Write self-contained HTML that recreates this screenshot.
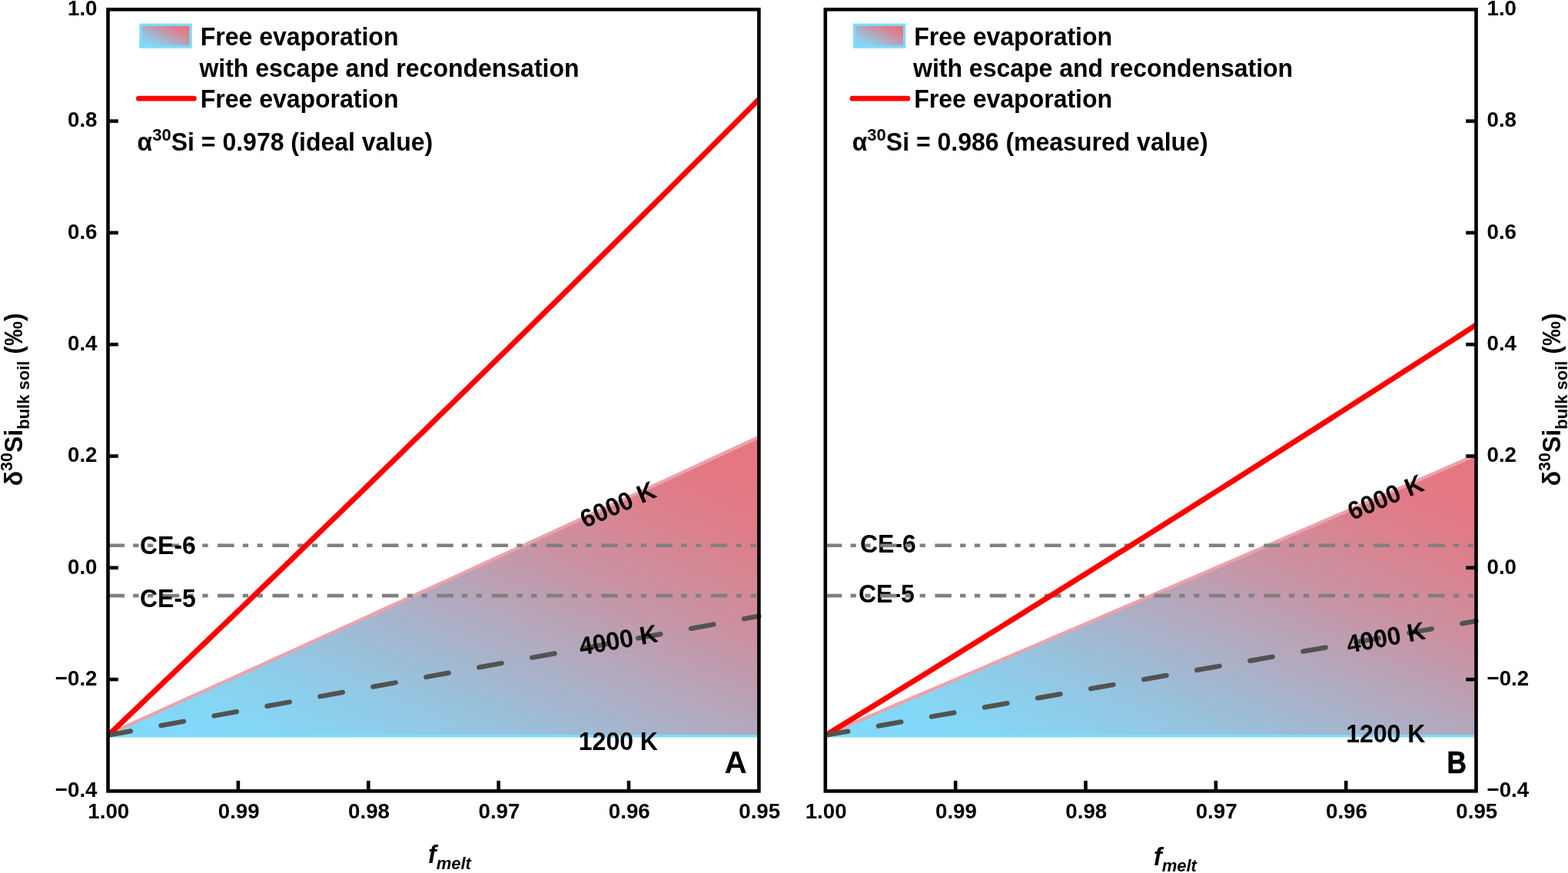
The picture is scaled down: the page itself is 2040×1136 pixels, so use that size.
<!DOCTYPE html><html><head><meta charset="utf-8"><title>Silicon isotope fractionation during evaporation</title><style>html,body{margin:0;padding:0;background:#fff;overflow:hidden}svg{display:block}text{font-family:"Liberation Sans", Arial, sans-serif;font-weight:bold;fill:#000}</style></head><body>
<svg width="2040" height="1136" viewBox="0 0 2040 1136">
<defs>
<linearGradient id="gf" x1="0" y1="1" x2="1" y2="0"><stop offset="0.0000" stop-color="#80dafa"/><stop offset="0.0417" stop-color="#81d9f9"/><stop offset="0.0833" stop-color="#82d8f8"/><stop offset="0.1250" stop-color="#84d6f5"/><stop offset="0.1667" stop-color="#88d3f1"/><stop offset="0.2083" stop-color="#8bcfec"/><stop offset="0.2500" stop-color="#90cae7"/><stop offset="0.2917" stop-color="#95c5e1"/><stop offset="0.3333" stop-color="#9ac0da"/><stop offset="0.3750" stop-color="#a0bad3"/><stop offset="0.4167" stop-color="#a6b4cc"/><stop offset="0.4583" stop-color="#adaec5"/><stop offset="0.5000" stop-color="#b3a8bd"/><stop offset="0.5417" stop-color="#b9a2b5"/><stop offset="0.5833" stop-color="#c09cae"/><stop offset="0.6250" stop-color="#c696a7"/><stop offset="0.6667" stop-color="#cc90a0"/><stop offset="0.7083" stop-color="#d18b99"/><stop offset="0.7500" stop-color="#d68693"/><stop offset="0.7917" stop-color="#db818e"/><stop offset="0.8333" stop-color="#de7d89"/><stop offset="0.8750" stop-color="#e27a85"/><stop offset="0.9167" stop-color="#e47882"/><stop offset="0.9583" stop-color="#e57781"/><stop offset="1.0000" stop-color="#e67680"/></linearGradient>
<linearGradient id="gl" x1="0" y1="1" x2="1" y2="0"><stop offset="0.0000" stop-color="#80dafa"/><stop offset="0.0417" stop-color="#81d9f9"/><stop offset="0.0833" stop-color="#82d8f8"/><stop offset="0.1250" stop-color="#85d5f5"/><stop offset="0.1667" stop-color="#88d2f1"/><stop offset="0.2083" stop-color="#8cceec"/><stop offset="0.2500" stop-color="#91c9e6"/><stop offset="0.2917" stop-color="#96c4e0"/><stop offset="0.3333" stop-color="#9cbfd9"/><stop offset="0.3750" stop-color="#a2b8d2"/><stop offset="0.4167" stop-color="#a9b2cb"/><stop offset="0.4583" stop-color="#afacc3"/><stop offset="0.5000" stop-color="#b6a5bb"/><stop offset="0.5417" stop-color="#bd9eb3"/><stop offset="0.5833" stop-color="#c398ab"/><stop offset="0.6250" stop-color="#ca92a4"/><stop offset="0.6667" stop-color="#d08b9d"/><stop offset="0.7083" stop-color="#d68696"/><stop offset="0.7500" stop-color="#db8190"/><stop offset="0.7917" stop-color="#e07c8a"/><stop offset="0.8333" stop-color="#e47885"/><stop offset="0.8750" stop-color="#e77581"/><stop offset="0.9167" stop-color="#ea727e"/><stop offset="0.9583" stop-color="#eb717d"/><stop offset="1.0000" stop-color="#ec707c"/></linearGradient>
<clipPath id="cpd0"><rect x="140.5" y="0" width="856.9" height="1136"/></clipPath>
<clipPath id="cp0"><rect x="140.5" y="12.300000000000011" width="846.9" height="1017.1000000000001"/></clipPath>
<clipPath id="cpd1"><rect x="1073.8" y="0" width="856.7" height="1136"/></clipPath>
<clipPath id="cp1"><rect x="1073.8" y="12.300000000000011" width="846.7" height="1017.1000000000001"/></clipPath>
</defs>
<rect width="2040" height="1136" fill="#fff"/>
<g id="panelA">
<g clip-path="url(#cp0)">
<polygon points="140.50,955.95 154.62,949.58 168.73,943.20 182.84,936.82 196.96,930.44 211.07,924.06 225.19,917.67 239.31,911.28 253.42,904.89 267.53,898.50 281.65,892.10 295.76,885.70 309.88,879.30 324.00,872.90 338.11,866.49 352.23,860.08 366.34,853.67 380.45,847.26 394.57,840.84 408.69,834.42 422.80,828.00 436.91,821.58 451.03,815.16 465.15,808.73 479.26,802.30 493.38,795.86 507.49,789.43 521.61,782.99 535.72,776.55 549.84,770.11 563.95,763.66 578.07,757.21 592.18,750.76 606.30,744.31 620.41,737.85 634.53,731.39 648.64,724.93 662.75,718.47 676.87,712.00 690.99,705.53 705.10,699.06 719.22,692.59 733.33,686.11 747.44,679.63 761.56,673.15 775.67,666.67 789.79,660.18 803.90,653.69 818.02,647.20 832.13,640.70 846.25,634.21 860.37,627.71 874.48,621.20 888.59,614.70 902.71,608.19 916.82,601.68 930.94,595.17 945.05,588.65 959.17,582.13 973.28,575.61 987.40,569.09 987.4,957.95 140.5,957.95" fill="url(#gf)"/>
<line x1="140.5" y1="957.75" x2="987.4" y2="957.75" stroke="#80dcfa" stroke-width="3.4"/>
<polyline points="140.50,955.55 154.62,949.18 168.73,942.80 182.84,936.42 196.96,930.04 211.07,923.66 225.19,917.27 239.31,910.88 253.42,904.49 267.53,898.10 281.65,891.70 295.76,885.30 309.88,878.90 324.00,872.50 338.11,866.09 352.23,859.68 366.34,853.27 380.45,846.86 394.57,840.44 408.69,834.02 422.80,827.60 436.91,821.18 451.03,814.76 465.15,808.33 479.26,801.90 493.38,795.46 507.49,789.03 521.61,782.59 535.72,776.15 549.84,769.71 563.95,763.26 578.07,756.81 592.18,750.36 606.30,743.91 620.41,737.45 634.53,730.99 648.64,724.53 662.75,718.07 676.87,711.60 690.99,705.13 705.10,698.66 719.22,692.19 733.33,685.71 747.44,679.23 761.56,672.75 775.67,666.27 789.79,659.78 803.90,653.29 818.02,646.80 832.13,640.30 846.25,633.81 860.37,627.31 874.48,620.80 888.59,614.30 902.71,607.79 916.82,601.28 930.94,594.77 945.05,588.25 959.17,581.73 973.28,575.21 987.40,568.69" fill="none" stroke="#eca2aa" stroke-width="4.2"/>
</g>
<line x1="140.5" y1="709.74" x2="987.4" y2="709.74" stroke="#808080" stroke-width="4.6" stroke-dasharray="21.5 11.2 7.3 11.5 7.3 12.5"/>
<text transform="translate(182.00,721.00) scale(1.0,1.03)" font-size="32">CE-6</text>
<line x1="140.5" y1="775.12" x2="987.4" y2="775.12" stroke="#808080" stroke-width="4.6" stroke-dasharray="21.5 11.2 7.3 11.5 7.3 12.5"/>
<text transform="translate(182.00,790.00) scale(1.0,1.03)" font-size="32">CE-5</text>
<g clip-path="url(#cp0)"><polyline points="140.50,957.05 151.09,946.97 161.67,936.88 172.26,926.78 182.84,916.68 193.43,906.57 204.02,896.45 214.60,886.33 225.19,876.20 235.78,866.06 246.36,855.92 256.95,845.77 267.53,835.62 278.12,825.45 288.71,815.29 299.29,805.11 309.88,794.93 320.47,784.74 331.05,774.55 341.64,764.34 352.23,754.14 362.81,743.92 373.40,733.70 383.98,723.47 394.57,713.24 405.16,703.00 415.74,692.75 426.33,682.50 436.91,672.24 447.50,661.97 458.09,651.69 468.67,641.41 479.26,631.13 489.85,620.83 500.43,610.53 511.02,600.22 521.61,589.91 532.19,579.59 542.78,569.26 553.36,558.92 563.95,548.58 574.54,538.23 585.12,527.88 595.71,517.52 606.30,507.15 616.88,496.77 627.47,486.39 638.05,476.00 648.64,465.60 659.23,455.20 669.81,444.79 680.40,434.38 690.99,423.95 701.57,413.52 712.16,403.08 722.74,392.64 733.33,382.19 743.92,371.73 754.50,361.27 765.09,350.79 775.67,340.32 786.26,329.83 796.85,319.34 807.43,308.84 818.02,298.33 828.61,287.82 839.19,277.30 849.78,266.77 860.37,256.23 870.95,245.69 881.54,235.14 892.12,224.59 902.71,214.02 913.30,203.45 923.88,192.88 934.47,182.29 945.05,171.70 955.64,161.10 966.23,150.50 976.81,139.89 987.40,129.27" fill="none" stroke="#ff0000" stroke-width="7"/></g>
<g clip-path="url(#cpd0)"><line x1="140.5" y1="956.75" x2="987.4" y2="801.71" stroke="#525252" stroke-width="6.3" stroke-linecap="round" stroke-dasharray="30 40.1"/></g>
<text transform="translate(761.10,687.50) rotate(-23.6) scale(1.0,1.03)" font-size="32">6000 K</text>
<text transform="translate(755.50,852.70) rotate(-9.8) scale(1.0,1.03)" font-size="32">4000 K</text>
<text transform="translate(752.80,975.50) scale(1.0,1.03)" font-size="32">1200 K</text>
<text transform="translate(942.50,1006.00)" font-size="40.5">A</text>
<rect x="140.5" y="12.30" width="846.90" height="1017.10" fill="none" stroke="#000" stroke-width="4.6"/>
<line x1="309.88" y1="1029.40" x2="309.88" y2="1015.90" stroke="#000" stroke-width="4.6"/>
<line x1="479.26" y1="1029.40" x2="479.26" y2="1015.90" stroke="#000" stroke-width="4.6"/>
<line x1="648.64" y1="1029.40" x2="648.64" y2="1015.90" stroke="#000" stroke-width="4.6"/>
<line x1="818.02" y1="1029.40" x2="818.02" y2="1015.90" stroke="#000" stroke-width="4.6"/>
<line x1="140.5" y1="157.60" x2="153.80" y2="157.60" stroke="#000" stroke-width="4.6"/>
<line x1="140.5" y1="302.90" x2="153.80" y2="302.90" stroke="#000" stroke-width="4.6"/>
<line x1="140.5" y1="448.20" x2="153.80" y2="448.20" stroke="#000" stroke-width="4.6"/>
<line x1="140.5" y1="593.50" x2="153.80" y2="593.50" stroke="#000" stroke-width="4.6"/>
<line x1="140.5" y1="738.80" x2="153.80" y2="738.80" stroke="#000" stroke-width="4.6"/>
<line x1="140.5" y1="884.10" x2="153.80" y2="884.10" stroke="#000" stroke-width="4.6"/>
<text transform="translate(126.50,20.00) scale(1.0,1.03)" font-size="27.7" text-anchor="end">1.0</text>
<text transform="translate(126.50,165.30) scale(1.0,1.03)" font-size="27.7" text-anchor="end">0.8</text>
<text transform="translate(126.50,310.60) scale(1.0,1.03)" font-size="27.7" text-anchor="end">0.6</text>
<text transform="translate(126.50,455.90) scale(1.0,1.03)" font-size="27.7" text-anchor="end">0.4</text>
<text transform="translate(126.50,601.20) scale(1.0,1.03)" font-size="27.7" text-anchor="end">0.2</text>
<text transform="translate(126.50,746.50) scale(1.0,1.03)" font-size="27.7" text-anchor="end">0.0</text>
<text transform="translate(126.50,891.80) scale(1.0,1.03)" font-size="27.7" text-anchor="end">−0.2</text>
<text transform="translate(126.50,1037.10) scale(1.0,1.03)" font-size="27.7" text-anchor="end">−0.4</text>
<text transform="translate(141.30,1065.00) scale(1.0,1.03)" font-size="27.7" text-anchor="middle">1.00</text>
<text transform="translate(310.68,1065.00) scale(1.0,1.03)" font-size="27.7" text-anchor="middle">0.99</text>
<text transform="translate(480.06,1065.00) scale(1.0,1.03)" font-size="27.7" text-anchor="middle">0.98</text>
<text transform="translate(649.44,1065.00) scale(1.0,1.03)" font-size="27.7" text-anchor="middle">0.97</text>
<text transform="translate(818.82,1065.00) scale(1.0,1.03)" font-size="27.7" text-anchor="middle">0.96</text>
<text transform="translate(988.20,1065.00) scale(1.0,1.03)" font-size="27.7" text-anchor="middle">0.95</text>
<rect x="182.9" y="32.3" width="65.2" height="28.8" fill="url(#gl)" stroke="#80dcfa" stroke-width="3.4"/>
<text transform="translate(260.70,58.70) scale(1.0,1.03)" font-size="32">Free evaporation</text>
<text transform="translate(259.40,99.80) scale(1.0,1.03)" font-size="32">with escape and recondensation</text>
<line x1="180.4" y1="128.2" x2="252.4" y2="128.2" stroke="#ff0000" stroke-width="6.7" stroke-linecap="round"/>
<text transform="translate(260.70,139.80) scale(1.0,1.03)" font-size="32">Free evaporation</text>
<text transform="translate(178.60,195.80) scale(1.0,1.03)" font-size="32">α<tspan font-size="22" dy="-12.8">30</tspan><tspan dy="12.8">Si = 0.978 (ideal value)</tspan></text>
<text transform="translate(557.00,1122.90) scale(1.0,1.03)" font-size="32" font-style="italic">f<tspan font-size="22" dy="8.3">melt</tspan></text>
</g>
<g id="panelB">
<g clip-path="url(#cp1)">
<polygon points="1073.80,956.75 1087.91,950.75 1102.02,944.74 1116.13,938.73 1130.25,932.72 1144.36,926.71 1158.47,920.70 1172.58,914.68 1186.69,908.66 1200.80,902.64 1214.92,896.62 1229.03,890.59 1243.14,884.56 1257.25,878.53 1271.36,872.50 1285.47,866.46 1299.59,860.43 1313.70,854.39 1327.81,848.34 1341.92,842.30 1356.03,836.25 1370.14,830.20 1384.26,824.15 1398.37,818.10 1412.48,812.04 1426.59,805.98 1440.70,799.92 1454.82,793.86 1468.93,787.79 1483.04,781.72 1497.15,775.65 1511.26,769.58 1525.37,763.51 1539.49,757.43 1553.60,751.35 1567.71,745.27 1581.82,739.18 1595.93,733.09 1610.04,727.00 1624.15,720.91 1638.27,714.82 1652.38,708.72 1666.49,702.62 1680.60,696.52 1694.71,690.41 1708.83,684.31 1722.94,678.20 1737.05,672.09 1751.16,665.97 1765.27,659.86 1779.38,653.74 1793.49,647.62 1807.61,641.49 1821.72,635.37 1835.83,629.24 1849.94,623.10 1864.05,616.97 1878.16,610.83 1892.28,604.70 1906.39,598.55 1920.50,592.41 1920.5,957.95 1073.8,957.95" fill="url(#gf)"/>
<line x1="1073.8" y1="957.75" x2="1920.5" y2="957.75" stroke="#80dcfa" stroke-width="3.4"/>
<polyline points="1073.80,956.35 1087.91,950.35 1102.02,944.34 1116.13,938.33 1130.25,932.32 1144.36,926.31 1158.47,920.30 1172.58,914.28 1186.69,908.26 1200.80,902.24 1214.92,896.22 1229.03,890.19 1243.14,884.16 1257.25,878.13 1271.36,872.10 1285.47,866.06 1299.59,860.03 1313.70,853.99 1327.81,847.94 1341.92,841.90 1356.03,835.85 1370.14,829.80 1384.26,823.75 1398.37,817.70 1412.48,811.64 1426.59,805.58 1440.70,799.52 1454.82,793.46 1468.93,787.39 1483.04,781.32 1497.15,775.25 1511.26,769.18 1525.37,763.11 1539.49,757.03 1553.60,750.95 1567.71,744.87 1581.82,738.78 1595.93,732.69 1610.04,726.60 1624.15,720.51 1638.27,714.42 1652.38,708.32 1666.49,702.22 1680.60,696.12 1694.71,690.01 1708.83,683.91 1722.94,677.80 1737.05,671.69 1751.16,665.57 1765.27,659.46 1779.38,653.34 1793.49,647.22 1807.61,641.09 1821.72,634.97 1835.83,628.84 1849.94,622.70 1864.05,616.57 1878.16,610.43 1892.28,604.30 1906.39,598.15 1920.50,592.01" fill="none" stroke="#eca2aa" stroke-width="4.2"/>
</g>
<text transform="translate(1119.00,719.00) scale(1.0,1.03)" font-size="32">CE-6</text>
<line x1="1073.8" y1="709.74" x2="1920.5" y2="709.74" stroke="#808080" stroke-width="4.6" stroke-dasharray="21.5 11.2 7.3 11.5 7.3 12.5"/>
<text transform="translate(1117.00,784.00) scale(1.0,1.03)" font-size="32">CE-5</text>
<line x1="1073.8" y1="775.12" x2="1920.5" y2="775.12" stroke="#808080" stroke-width="4.6" stroke-dasharray="21.5 11.2 7.3 11.5 7.3 12.5"/>
<g clip-path="url(#cp1)"><polyline points="1073.80,957.05 1084.38,950.54 1094.97,944.03 1105.55,937.51 1116.13,930.99 1126.72,924.47 1137.30,917.94 1147.89,911.40 1158.47,904.87 1169.05,898.32 1179.64,891.78 1190.22,885.23 1200.80,878.67 1211.39,872.11 1221.97,865.55 1232.56,858.98 1243.14,852.41 1253.72,845.84 1264.31,839.26 1274.89,832.67 1285.47,826.08 1296.06,819.49 1306.64,812.89 1317.23,806.29 1327.81,799.69 1338.39,793.08 1348.98,786.46 1359.56,779.84 1370.14,773.22 1380.73,766.59 1391.31,759.96 1401.90,753.33 1412.48,746.69 1423.06,740.04 1433.65,733.40 1444.23,726.74 1454.82,720.08 1465.40,713.42 1475.98,706.76 1486.57,700.09 1497.15,693.41 1507.73,686.73 1518.32,680.05 1528.90,673.36 1539.49,666.67 1550.07,659.97 1560.65,653.27 1571.24,646.57 1581.82,639.86 1592.40,633.14 1602.99,626.42 1613.57,619.70 1624.15,612.97 1634.74,606.24 1645.32,599.50 1655.91,592.76 1666.49,586.02 1677.07,579.27 1687.66,572.51 1698.24,565.75 1708.83,558.99 1719.41,552.22 1729.99,545.45 1740.58,538.67 1751.16,531.89 1761.74,525.11 1772.33,518.32 1782.91,511.52 1793.49,504.72 1804.08,497.92 1814.66,491.11 1825.25,484.30 1835.83,477.48 1846.41,470.66 1857.00,463.83 1867.58,457.00 1878.16,450.16 1888.75,443.32 1899.33,436.48 1909.92,429.63 1920.50,422.77" fill="none" stroke="#ff0000" stroke-width="7"/></g>
<g clip-path="url(#cpd1)"><line x1="1073.8" y1="956.75" x2="1920.5" y2="808.18" stroke="#525252" stroke-width="6.3" stroke-linecap="round" stroke-dasharray="30 40.1"/></g>
<text transform="translate(1759.30,677.30) rotate(-22.6) scale(1.0,1.03)" font-size="32">6000 K</text>
<text transform="translate(1754.30,850.00) rotate(-10.5) scale(1.0,1.03)" font-size="32">4000 K</text>
<text transform="translate(1751.20,965.50) scale(1.0,1.03)" font-size="32">1200 K</text>
<text transform="translate(1882.50,1006.00) scale(0.87,1.0)" font-size="40.5" stroke="#000" stroke-width="0.7">B</text>
<rect x="1073.8" y="12.30" width="846.70" height="1017.10" fill="none" stroke="#000" stroke-width="4.6"/>
<line x1="1243.14" y1="1029.40" x2="1243.14" y2="1015.90" stroke="#000" stroke-width="4.6"/>
<line x1="1412.48" y1="1029.40" x2="1412.48" y2="1015.90" stroke="#000" stroke-width="4.6"/>
<line x1="1581.82" y1="1029.40" x2="1581.82" y2="1015.90" stroke="#000" stroke-width="4.6"/>
<line x1="1751.16" y1="1029.40" x2="1751.16" y2="1015.90" stroke="#000" stroke-width="4.6"/>
<line x1="1920.5" y1="157.60" x2="1907.20" y2="157.60" stroke="#000" stroke-width="4.6"/>
<line x1="1920.5" y1="302.90" x2="1907.20" y2="302.90" stroke="#000" stroke-width="4.6"/>
<line x1="1920.5" y1="448.20" x2="1907.20" y2="448.20" stroke="#000" stroke-width="4.6"/>
<line x1="1920.5" y1="593.50" x2="1907.20" y2="593.50" stroke="#000" stroke-width="4.6"/>
<line x1="1920.5" y1="738.80" x2="1907.20" y2="738.80" stroke="#000" stroke-width="4.6"/>
<line x1="1920.5" y1="884.10" x2="1907.20" y2="884.10" stroke="#000" stroke-width="4.6"/>
<text transform="translate(1934.50,20.00) scale(1.0,1.03)" font-size="27.7">1.0</text>
<text transform="translate(1934.50,165.30) scale(1.0,1.03)" font-size="27.7">0.8</text>
<text transform="translate(1934.50,310.60) scale(1.0,1.03)" font-size="27.7">0.6</text>
<text transform="translate(1934.50,455.90) scale(1.0,1.03)" font-size="27.7">0.4</text>
<text transform="translate(1934.50,601.20) scale(1.0,1.03)" font-size="27.7">0.2</text>
<text transform="translate(1934.50,746.50) scale(1.0,1.03)" font-size="27.7">0.0</text>
<text transform="translate(1934.50,891.80) scale(1.0,1.03)" font-size="27.7">−0.2</text>
<text transform="translate(1934.50,1037.10) scale(1.0,1.03)" font-size="27.7">−0.4</text>
<text transform="translate(1074.60,1065.00) scale(1.0,1.03)" font-size="27.7" text-anchor="middle">1.00</text>
<text transform="translate(1243.94,1065.00) scale(1.0,1.03)" font-size="27.7" text-anchor="middle">0.99</text>
<text transform="translate(1413.28,1065.00) scale(1.0,1.03)" font-size="27.7" text-anchor="middle">0.98</text>
<text transform="translate(1582.62,1065.00) scale(1.0,1.03)" font-size="27.7" text-anchor="middle">0.97</text>
<text transform="translate(1751.96,1065.00) scale(1.0,1.03)" font-size="27.7" text-anchor="middle">0.96</text>
<text transform="translate(1921.30,1065.00) scale(1.0,1.03)" font-size="27.7" text-anchor="middle">0.95</text>
<rect x="1111.5" y="32.3" width="65.2" height="28.8" fill="url(#gl)" stroke="#80dcfa" stroke-width="3.4"/>
<text transform="translate(1189.30,58.70) scale(1.0,1.03)" font-size="32">Free evaporation</text>
<text transform="translate(1188.00,99.80) scale(1.0,1.03)" font-size="32">with escape and recondensation</text>
<line x1="1109.0" y1="128.2" x2="1181.0" y2="128.2" stroke="#ff0000" stroke-width="6.7" stroke-linecap="round"/>
<text transform="translate(1189.30,139.80) scale(1.0,1.03)" font-size="32">Free evaporation</text>
<text transform="translate(1108.70,195.80) scale(1.0,1.03)" font-size="32">α<tspan font-size="22" dy="-12.8">30</tspan><tspan dy="12.8">Si = 0.986 (measured value)</tspan></text>
<text transform="translate(1501.00,1125.90) scale(1.0,1.03)" font-size="32" font-style="italic">f<tspan font-size="22" dy="8.3">melt</tspan></text>
</g>
<text transform="translate(29.20,632.30) rotate(-90) scale(1.0,1.03)" font-size="32">δ<tspan font-size="21.5" dy="-12.5">30</tspan><tspan dy="12.5">Si</tspan><tspan font-size="22" dy="9">bulk soil</tspan><tspan dy="-9"> (‰)</tspan></text>
<text transform="translate(2030.20,632.30) rotate(-90) scale(1.0,1.03)" font-size="32">δ<tspan font-size="21.5" dy="-12.5">30</tspan><tspan dy="12.5">Si</tspan><tspan font-size="22" dy="9">bulk soil</tspan><tspan dy="-9"> (‰)</tspan></text>
</svg></body></html>
